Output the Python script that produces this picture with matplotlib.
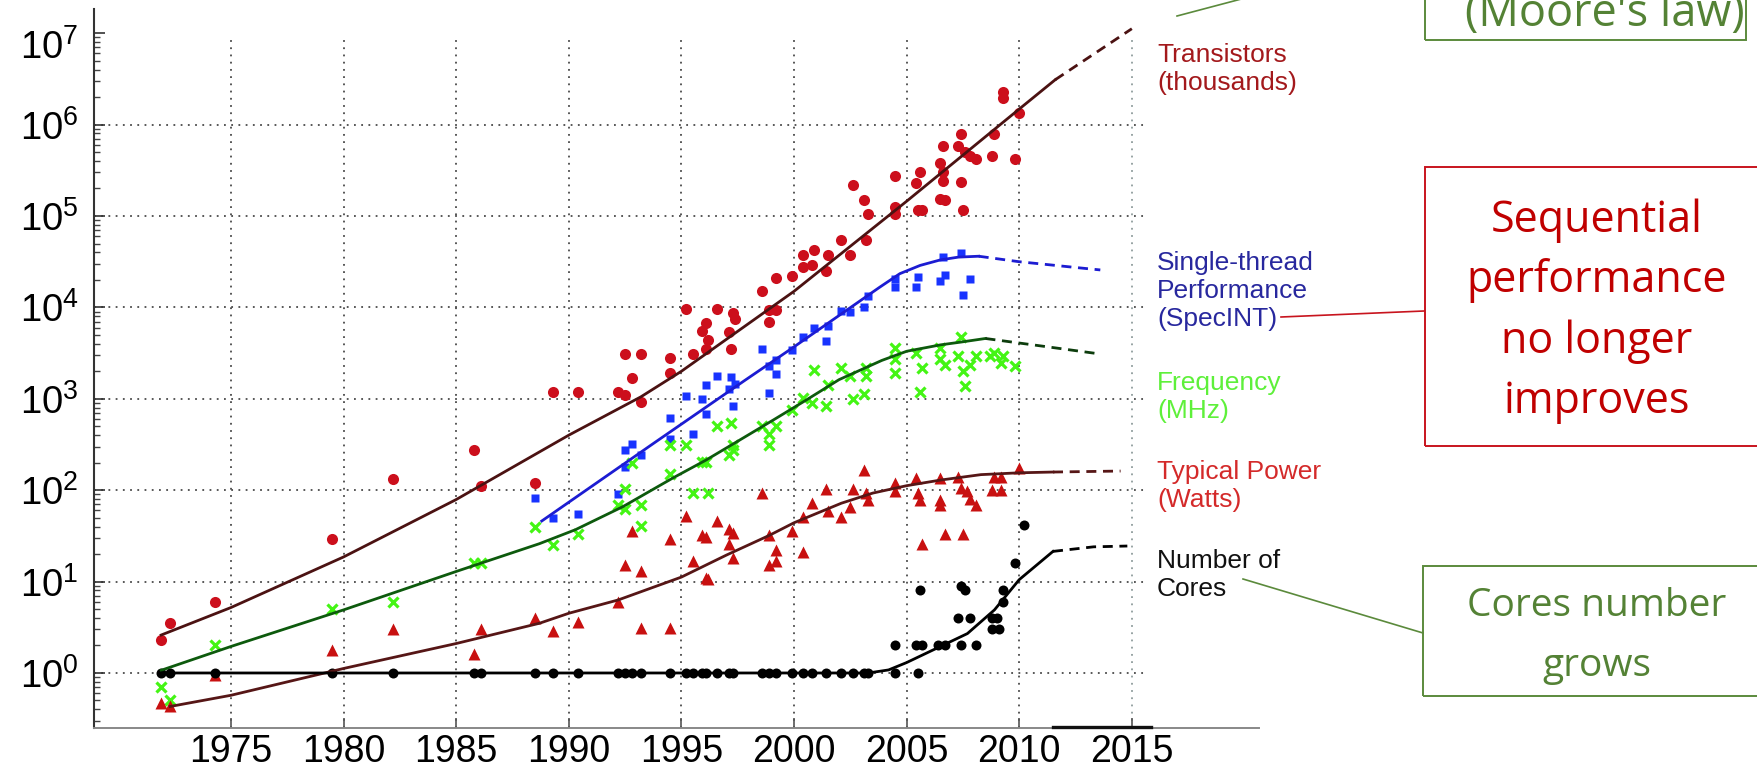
import matplotlib.pyplot as plt
from matplotlib.patches import Rectangle
from matplotlib.lines import Line2D
from matplotlib.transforms import ScaledTranslation

# ---- data ----
trans_year = [1971.9, 1972.3, 1974.3, 1979.5, 1982.2, 1985.8, 1986.1, 1988.5, 1989.3, 1990.4,
              1992.2, 1992.5, 1993.2, 1992.8, 1992.5, 1993.2, 1994.5, 1994.5, 1995.5, 1995.2,
              1996.1, 1995.9, 1996.2, 1996.1, 1996.6, 1997.3, 1997.4, 1997.1, 1997.2, 1998.6,
              1998.9, 1999.2, 1998.9, 1999.2, 1999.9, 2000.4, 2000.4, 2000.8, 2000.9, 2001.5,
              2001.4, 2002.1, 2002.5, 2003.2, 2002.6, 2003.1, 2003.3, 2004.5, 2004.5, 2004.5,
              2005.4, 2005.6, 2005.5, 2005.7, 2006.6, 2006.5, 2006.6, 2006.6, 2006.5, 2006.7,
              2007.4, 2007.3, 2007.4, 2007.5, 2007.6, 2007.8, 2008.1, 2008.8, 2008.9, 2009.3,
              2009.3, 2009.8, 2010.0]
trans_k = [2.3, 3.5, 6, 29, 134, 275, 110, 120, 1200, 1200,
           1200, 1100, 930, 1700, 3100, 3100, 2800, 1900, 3100, 9500,
           6800, 5500, 4400, 3500, 9500, 8700, 7400, 5400, 3500, 15000,
           9300, 9300, 6900, 21000, 22000, 37000, 28000, 29000, 42000, 37000,
           25000, 55000, 37000, 54000, 220000, 150000, 105000, 275000, 125000, 105000,
           230000, 300000, 115000, 115000, 590000, 380000, 300000, 240000, 155000, 150000,
           790000, 590000, 235000, 115000, 500000, 450000, 420000, 450000, 780000, 2300000,
           1950000, 420000, 1350000]

st_year = [1988.5, 1989.3, 1990.4, 1992.2, 1992.5, 1992.5, 1992.8, 1993.2, 1994.5, 1994.5,
           1995.2, 1995.5, 1995.9, 1996.1, 1996.1, 1996.6, 1997.2, 1997.4, 1997.1, 1997.3,
           1998.6, 1998.9, 1999.2, 1998.9, 1999.2, 1999.9, 2000.4, 2000.9, 2001.4, 2001.5,
           2002.1, 2002.5, 2003.1, 2003.3, 2004.5, 2004.5, 2005.5, 2005.4, 2006.6, 2006.5,
           2006.7, 2007.4, 2007.8, 2007.5]
st_perf = [83, 50, 55, 92, 178, 275, 320, 245, 615, 360,
           1070, 415, 1000, 690, 1400, 1780, 1740, 1450, 1290, 830,
           3550, 2300, 1860, 1150, 2630, 3400, 4700, 6000, 4300, 6300,
           9100, 8900, 10000, 13200, 20400, 16600, 21400, 16600, 35500, 19500,
           22900, 39800, 20400, 13800]

freq_year = [1971.9, 1972.3, 1974.3, 1979.5, 1982.2, 1985.8, 1986.1, 1988.5, 1989.3, 1990.4,
             1992.2, 1992.5, 1992.5, 1993.2, 1993.2, 1992.8, 1994.5, 1994.5, 1995.2, 1995.5,
             1996.2, 1995.9, 1996.1, 1996.6, 1997.2, 1997.1, 1997.3, 1997.3, 1998.6, 1998.9,
             1998.9, 1999.2, 1999.9, 2000.4, 2000.8, 2000.9, 2001.4, 2001.5, 2002.1, 2002.5,
             2002.6, 2003.1, 2003.2, 2003.2, 2004.5, 2004.5, 2004.5, 2005.4, 2005.6, 2005.7,
             2006.5, 2006.5, 2006.7, 2007.4, 2007.3, 2007.5, 2007.6, 2007.8, 2008.1, 2008.7,
             2008.9, 2009.3, 2009.2, 2009.8]
freq_mhz = [0.71, 0.5, 2, 5, 6, 16, 16, 40, 25, 33,
            68, 63, 102, 68, 41, 200, 150, 310, 310, 93,
            93, 204, 204, 510, 540, 245, 275, 316, 510, 410,
            310, 500, 760, 1020, 910, 2040, 830, 1400, 2200, 1780,
            1000, 1120, 2200, 1780, 3630, 2700, 1900, 3160, 1200, 2200,
            3630, 2700, 2340, 4800, 2950, 2000, 1380, 2340, 2950, 2950,
            3160, 2950, 2450, 2300]

pow_year = [1971.9, 1972.3, 1974.3, 1979.5, 1982.2, 1985.8, 1986.1, 1988.5, 1989.3, 1990.4,
            1992.2, 1992.5, 1992.8, 1993.2, 1993.2, 1994.5, 1994.5, 1995.2, 1995.5, 1995.9,
            1996.1, 1996.1, 1996.2, 1996.6, 1997.1, 1997.1, 1997.3, 1997.3, 1998.6, 1998.9,
            1999.2, 1999.2, 1998.9, 1999.9, 2000.4, 2000.4, 2000.8, 2001.4, 2001.5, 2002.1,
            2002.5, 2002.6, 2003.1, 2003.2, 2003.3, 2004.5, 2004.5, 2005.4, 2005.5, 2005.6,
            2005.7, 2006.5, 2006.5, 2006.5, 2006.7, 2007.3, 2007.4, 2007.5, 2007.7, 2007.8,
            2008.1, 2008.8, 2008.9, 2009.2, 2009.2, 2010.0]
pow_watt = [0.47, 0.44, 0.95, 1.8, 3, 1.6, 3, 4, 2.9, 3.6,
            6, 15, 36, 13, 3.1, 3.1, 29, 52, 17, 32,
            31, 11, 10.7, 46, 38, 26, 34, 18, 93, 32,
            22, 17, 15, 36, 51, 21, 72, 102, 59, 51,
            66, 102, 166, 93, 78, 120, 98, 135, 93, 78,
            26, 135, 78, 69, 33, 141, 105, 33, 98, 81,
            69, 100, 141, 141, 100, 174]

core_year = [1971.9, 1972.3, 1974.3, 1979.5, 1982.2, 1985.8, 1986.1, 1988.5, 1989.3, 1990.4,
             1992.2, 1992.5, 1992.8, 1993.2, 1994.5, 1995.2, 1995.5, 1995.9, 1996.1, 1996.6,
             1997.1, 1997.3, 1998.6, 1998.9, 1999.2, 1999.9, 2000.4, 2000.8, 2001.4, 2002.1,
             2002.6, 2003.1, 2003.3, 2004.5, 2005.5,
             2004.5, 2005.4, 2005.7, 2005.6, 2006.4, 2006.7, 2007.3, 2007.8, 2007.4, 2008.1,
             2007.4, 2007.6, 2008.8, 2009.0, 2008.8, 2009.1, 2009.3, 2009.3, 2009.8, 2010.2]
core_n = [1] * 35 + [2, 2, 2, 8, 2, 2, 4, 4, 2, 2,
                     9, 8, 4, 4, 3, 3, 6, 8, 16, 42]

# trend curves (solid part) and projections (dashed part)
trans_fit_year = [1971.9, 1975, 1980, 1985, 1990, 1993.2, 1995, 2000, 2005, 2010, 2011.6]
trans_fit_k = [2.6, 5.2, 18.6, 79, 400, 1050, 2000, 15000, 145000, 1480000, 3100000]
trans_proj_year = [2011.6, 2015.0]
trans_proj_k = [3100000, 11200000]

st_fit_year = [1988.8, 1993.8, 1997.8, 2000.0, 2003.8, 2004.7, 2005.6, 2006.5, 2007.3, 2008.2]
st_fit_perf = [46, 330, 1580, 3700, 16600, 23400, 28800, 33100, 35500, 36300]
st_proj_year = [2008.2, 2010.0, 2011.2, 2012.4, 2013.6]
st_proj_perf = [36300, 31600, 29500, 27500, 25700]

freq_fit_year = [1971.9, 1975, 1980, 1985, 1988.7, 1990.3, 1992.4, 1994.6, 1996.1, 1997.6,
                 1999.1, 2000.5, 2002.0, 2003.9, 2005.0, 2006.5, 2007.4, 2008.5]
freq_fit_mhz = [1.07, 1.95, 4.9, 12.9, 26, 37, 66, 135, 214, 355,
                590, 955, 1620, 2630, 3310, 3890, 4170, 4570]
freq_proj_year = [2008.5, 2009.7, 2011.2, 2013.6]
freq_proj_mhz = [4570, 4170, 3720, 3090]

pow_fit_year = [1972.3, 1975, 1980, 1985, 1988.7, 1990, 1992.2, 1995.0, 1997.0, 1998.9,
                2000.0, 2002.1, 2003.5, 2005.0, 2006.5, 2008.3, 2010.0, 2011.5]
pow_fit_watt = [0.43, 0.57, 1.12, 2.1, 3.5, 4.5, 6.3, 11.2, 19.5, 32,
                44, 72, 93, 112, 129, 148, 155, 158]
pow_proj_year = [2011.5, 2014.5]
pow_proj_watt = [158, 162]

core_fit_year = [1971.9, 2003.3, 2004.2, 2005.0, 2006.5, 2007.7, 2008.9, 2010.0, 2011.5]
core_fit_n = [1, 1, 1.08, 1.3, 1.95, 2.7, 4.9, 10.5, 21.4]
core_proj_year = [2011.5, 2013.3, 2014.8]
core_proj_n = [21.4, 24, 24.5]

year_ticks = [1975, 1980, 1985, 1990, 1995, 2000, 2005, 2010, 2015]
decades = [0, 1, 2, 3, 4, 5, 6, 7]

series_labels = ['Transistors\n(thousands)', 'Single-thread\nPerformance\n(SpecINT)',
                 'Frequency\n(MHz)', 'Typical Power\n(Watts)', 'Number of\nCores']
seq_lines = ['Sequential', 'performance', 'no longer', 'improves']
core_lines = ['Cores number', 'grows']
moore_line = "(Moore's law)"

# ---- drawing ----
plt.rcParams['font.family'] = ['Liberation Sans', 'DejaVu Sans']
plt.rcParams['mathtext.fontset'] = 'custom'
plt.rcParams['mathtext.rm'] = 'Liberation Sans'

W, H = 1757, 771


def fx(px):
    return px / W


def fy(py):
    return 1 - py / H


fig = plt.figure(figsize=(W / 100, H / 100), dpi=100)
ax = fig.add_axes([fx(94), fy(728), (1144 - 94) / W, (728 - 9) / H])
ax.set_yscale('log')
ax.set_xlim(1968.92, 2015.54)
ax.set_ylim(10 ** -0.602, 10 ** 7.265)

# dotted grid (no line at 1e7, vertical lines stop just under it)
grid_ls = (0, (1, 3.0))
ax.vlines(year_ticks[:-1], 10 ** -0.602, 10 ** 6.94, colors='#4a4a4a', linestyles=grid_ls, lw=1.3, zorder=1)
ax.vlines(year_ticks[-1:], 10 ** -0.602, 10 ** 6.94, colors='#8f9c9c', linestyles=grid_ls, lw=1.3, zorder=1)
ax.hlines([10.0 ** d for d in decades[:-1]], 1968.92, 2015.54, colors='#4a4a4a', linestyles=grid_ls, lw=1.3, zorder=1)

# markers
ax.plot(trans_year, trans_k, 'o', color='#cc0f1c', ms=8.0, mec='none', zorder=3)
ax.plot(st_year, st_perf, 's', color='#1833ff', ms=6.0, mec='none', zorder=3)
ax.plot(freq_year, freq_mhz, 'x', color='#44f514', ms=7.2, mew=2.3, zorder=3)
ax.plot(pow_year, pow_watt, '^', color='#c81010', ms=8.8, mec='none', zorder=3)
ax.plot(core_year, core_n, 'o', color='black', ms=7.2, mec='none', zorder=3)

# trend lines
dash = (0, (3.6, 2.4))
lw = 2.0
ax.plot(trans_fit_year, trans_fit_k, color='#4b1212', lw=lw, zorder=4)
ax.plot(trans_proj_year, trans_proj_k, color='#4b1212', lw=lw, ls=dash, zorder=4)
ax.plot(st_fit_year, st_fit_perf, color='#1c1cd2', lw=lw, zorder=4)
ax.plot(st_proj_year, st_proj_perf, color='#1c1cd2', lw=lw, ls=dash, zorder=4)
ax.plot(freq_fit_year, freq_fit_mhz, color='#0d5a0d', lw=lw, zorder=4)
ax.plot(freq_proj_year, freq_proj_mhz, color='#0d3d0d', lw=lw, ls=dash, zorder=4)
ax.plot(pow_fit_year, pow_fit_watt, color='#561616', lw=lw, zorder=4)
ax.plot(pow_proj_year, pow_proj_watt, color='#561616', lw=lw, ls=dash, zorder=4)
ax.plot(core_fit_year, core_fit_n, color='black', lw=lw, zorder=4)
ax.plot(core_proj_year, core_proj_n, color='black', lw=lw, ls=dash, zorder=4)

# axes styling
ax.set_xticks(year_ticks)
ax.set_xticklabels([str(y) for y in year_ticks])
ax.set_yticks([10.0 ** d for d in decades])
ax.set_yticklabels([r'$\mathregular{10^{%d}}$' % d for d in decades])
ax.xaxis.set_minor_locator(plt.NullLocator())
ax.tick_params(axis='x', which='major', direction='in', length=7, width=1.2, color='#555555',
               labelsize=27, pad=4)
ax.tick_params(axis='y', which='major', direction='in', length=8, width=1.2, color='#333333',
               labelsize=27.5, pad=11)
ax.tick_params(axis='y', which='minor', direction='in', length=4, width=1.0, color='#444444')
# the top label sits a little lower than its tick
top_lab = ax.get_yticklabels()[-1]
top_lab.set_transform(top_lab.get_transform() + ScaledTranslation(0, -0.11, fig.dpi_scale_trans))
for s in ['top', 'right']:
    ax.spines[s].set_visible(False)
ax.spines['left'].set_color('#333333')
ax.spines['left'].set_linewidth(1.5)
ax.spines['bottom'].set_color('#888888')
ax.spines['bottom'].set_linewidth(1.4)

# bottom axis continues to the right, with a darker piece near 2015
fig.add_artist(Line2D([fx(1144), fx(1259)], [fy(727.5), fy(727.5)], color='#888888', lw=1.4))
fig.add_artist(Line2D([fx(1053), fx(1151)], [fy(727), fy(727)], color='#111111', lw=2.4))

# series labels right of the plot (y = baseline of the last line)
label_colors = ['#a3191c', '#28289e', '#5ef03a', '#d42a2a', '#111111']
label_base = [90, 326, 418, 507, 596]
for txt, col, yy in zip(series_labels, label_colors, label_base):
    fig.text(fx(1157), fy(yy), txt, color=col, fontsize=19, ha='left', va='baseline', linespacing=1.2)

# call-out boxes
red = '#c8141e'
green = '#5b8a3c'
box_font = ['Open Sans', 'DejaVu Sans']
fig.add_artist(Rectangle((fx(1425), fy(446)), (1780 - 1425) / W, (446 - 167) / H,
                         transform=fig.transFigure, fill=False, ec=red, lw=1.4))
for txt, base in zip(seq_lines, [232, 292, 353, 413]):
    fig.text(fx(1597), fy(base), txt, color='#c00000', fontsize=31, family=box_font,
             ha='center', va='baseline')

fig.add_artist(Rectangle((fx(1423), fy(696)), (1780 - 1423) / W, (696 - 566) / H,
                         transform=fig.transFigure, fill=False, ec=green, lw=1.4))
for txt, base in zip(core_lines, [616, 676]):
    fig.text(fx(1597), fy(base), txt, color='#548235', fontsize=28, family=box_font,
             ha='center', va='baseline')

fig.add_artist(Rectangle((fx(1425), fy(40)), (1746 - 1425) / W, (40 + 30) / H,
                         transform=fig.transFigure, fill=False, ec=green, lw=1.4))
fig.text(fx(1604.5), fy(26), moore_line, color='#548235', fontsize=32.5, family=box_font,
         ha='center', va='baseline')

# connectors
fig.add_artist(Line2D([fx(1281), fx(1424)], [fy(317), fy(311)], color=red, lw=1.2))
fig.add_artist(Line2D([fx(1243), fx(1423)], [fy(579), fy(633)], color=green, lw=1.2))
fig.add_artist(Line2D([fx(1177), fx(1300)], [fy(16), fy(-16.5)], color=green, lw=1.2))

fig.savefig('out.png', dpi=100)
